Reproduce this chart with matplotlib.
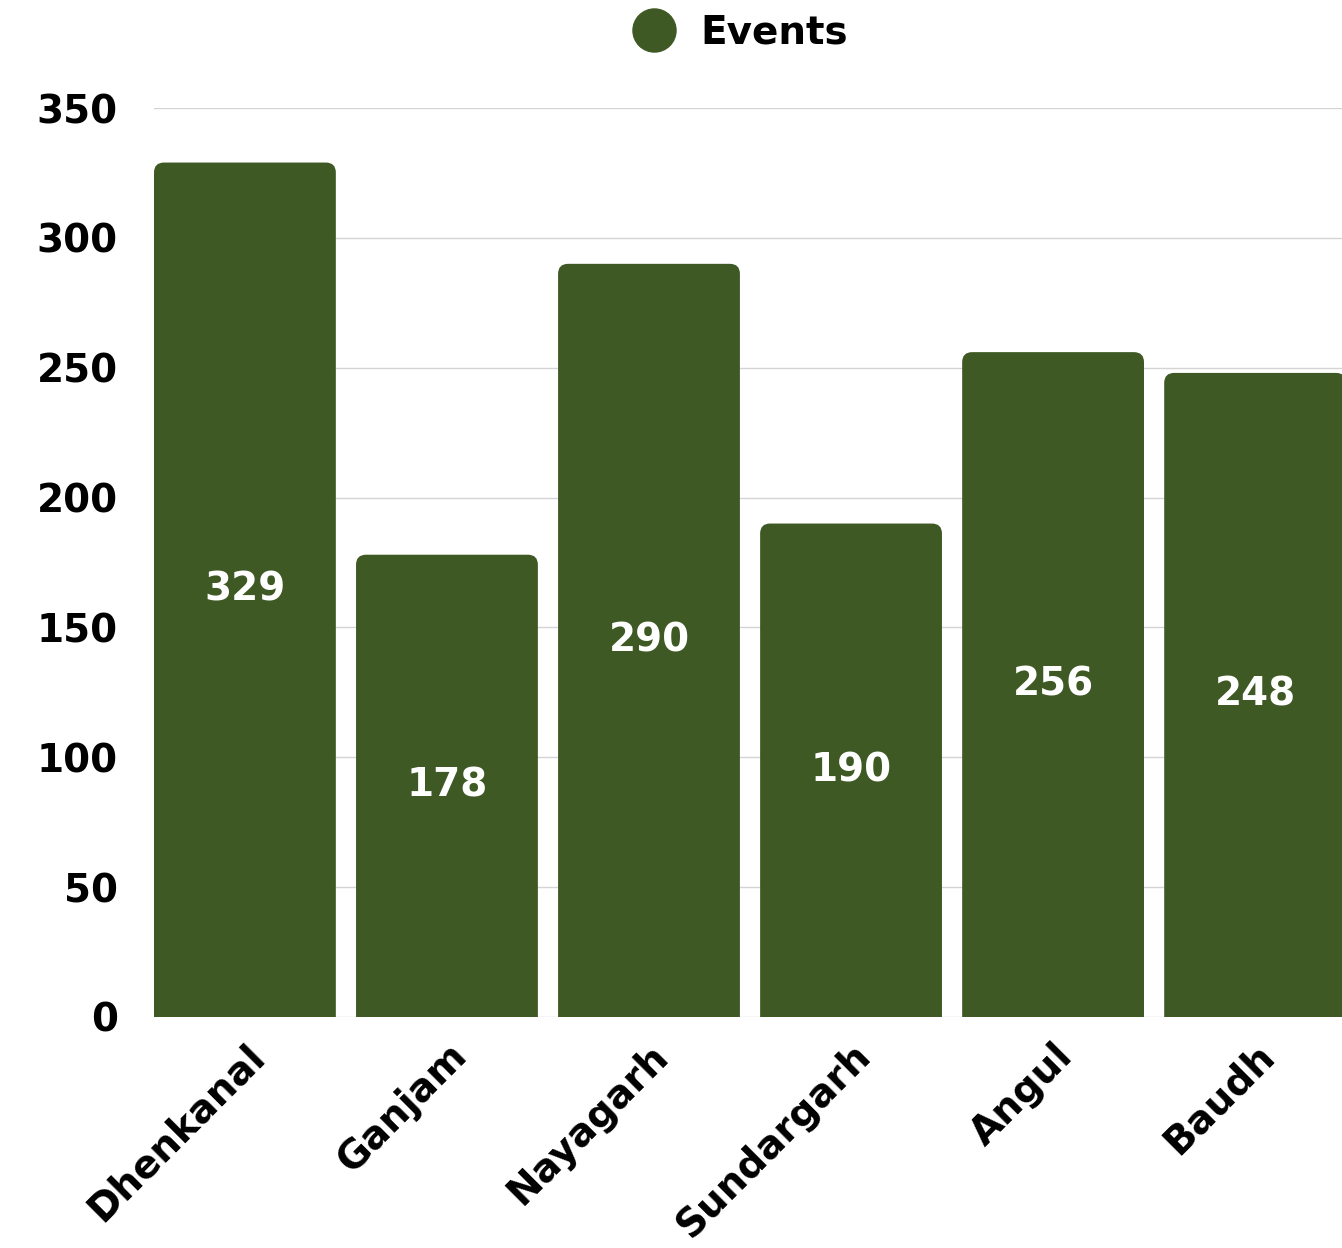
import matplotlib
matplotlib.use('Agg')
import matplotlib.pyplot as plt
from matplotlib.lines import Line2D
from matplotlib.patches import PathPatch
from matplotlib.path import Path

districts = ['Dhenkanal', 'Ganjam', 'Nayagarh', 'Sundargarh', 'Angul', 'Baudh']
events = [329, 178, 290, 190, 256, 248]
yticks = [0, 50, 100, 150, 200, 250, 300, 350]

GREEN = '#3f5925'
FS = 28
plt.rcParams['font.family'] = ['DejaVu Sans']
plt.rcParams['font.weight'] = 'bold'

fig = plt.figure(figsize=(13.42, 12.48), dpi=100)
ax = fig.add_axes([154 / 1342, 1 - 1017 / 1248, 1 - 154 / 1342, (1017 - 108) / 1248])

width = 0.9
ax.set_xlim(-0.45, 5.43)
ax.set_ylim(0, 350)

# corner radius of ~10px, converted to data units on each axis
rx = 10 / (1188 / 5.88)
ry = 10 / (909 / 350)


def top_rounded_bar(x0, x1, h):
    verts = [(x0, 0), (x0, h - ry), (x0, h), (x0 + rx, h),
             (x1 - rx, h), (x1, h), (x1, h - ry), (x1, 0), (x0, 0)]
    codes = [Path.MOVETO, Path.LINETO, Path.CURVE3, Path.CURVE3,
             Path.LINETO, Path.CURVE3, Path.CURVE3, Path.LINETO, Path.CLOSEPOLY]
    return Path(verts, codes)


for i, v in enumerate(events):
    ax.add_patch(PathPatch(top_rounded_bar(i - width / 2, i + width / 2, v),
                           fc=GREEN, ec='none', zorder=2))
    ax.text(i, v / 2, str(v), ha='center', va='center', color='white',
            fontsize=FS, fontweight='bold', zorder=3)

ax.set_yticks(yticks)
ax.set_yticklabels([str(t) for t in yticks], fontsize=FS, fontweight='bold')
ax.set_xticks(range(len(districts)))
ax.set_xticklabels(districts, rotation=45, ha='right', va='top',
                   rotation_mode='anchor', fontsize=FS, fontweight='bold')
ax.tick_params(length=0)
ax.tick_params(axis='y', pad=26)
ax.tick_params(axis='x', pad=14)
ax.grid(axis='y', color='#d4d4d4', lw=1, zorder=0)
for s in ax.spines.values():
    s.set_visible(False)

handle = Line2D([], [], marker='o', ls='', color=GREEN, markersize=31)
fig.legend([handle], ['Events'], loc='center', bbox_to_anchor=(0.545, 1 - 33 / 1248),
           frameon=False, fontsize=FS, handletextpad=0.2, borderaxespad=0)

fig.savefig('out.png', dpi=100)
